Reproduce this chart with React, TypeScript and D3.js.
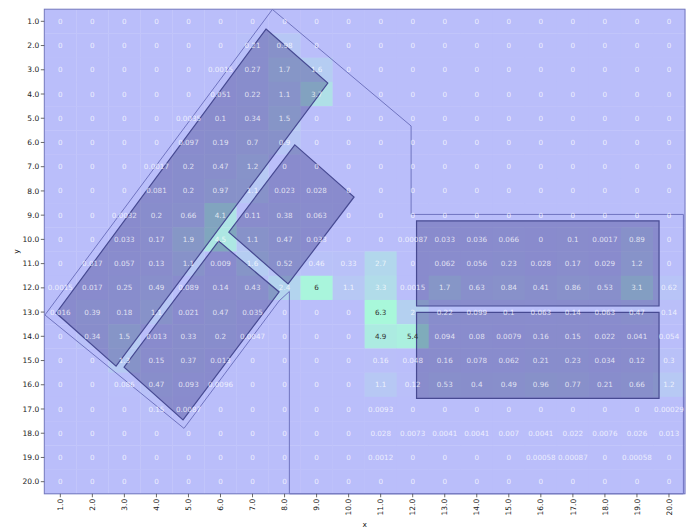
import React from 'react';
import * as d3 from 'd3';

const xLabels = ["1.0","2.0","3.0","4.0","5.0","6.0","7.0","8.0","9.0","10.0","11.0","12.0","13.0","14.0","15.0","16.0","17.0","18.0","19.0","20.0"];
const yLabels = xLabels;

const values: number[][] = [
  [0,0,0,0,0,0,0,0,0,0,0,0,0,0,0,0,0,0,0,0],
  [0,0,0,0,0,0,0.21,0.98,0,0,0,0,0,0,0,0,0,0,0,0],
  [0,0,0,0,0,0.0015,0.27,1.7,1.6,0,0,0,0,0,0,0,0,0,0,0],
  [0,0,0,0,0,0.051,0.22,1.1,3.7,0,0,0,0,0,0,0,0,0,0,0],
  [0,0,0,0,0.0035,0.1,0.34,1.5,0,0,0,0,0,0,0,0,0,0,0,0],
  [0,0,0,0,0.097,0.19,0.7,0.9,0,0,0,0,0,0,0,0,0,0,0,0],
  [0,0,0,0.0017,0.2,0.47,1.2,0,0,0,0,0,0,0,0,0,0,0,0,0],
  [0,0,0,0.081,0.2,0.97,1.1,0.023,0.028,0,0,0,0,0,0,0,0,0,0,0],
  [0,0,0.0032,0.2,0.66,4.1,0.11,0.38,0.063,0,0,0,0,0,0,0,0,0,0,0],
  [0,0,0.033,0.17,1.9,4.5,1.1,0.47,0.033,0,0,0.00087,0.033,0.036,0.066,0,0.1,0.0017,0.89,0],
  [0,0.017,0.057,0.13,1.1,0.009,1.6,0.52,0.46,0.33,2.7,0,0.062,0.056,0.23,0.028,0.17,0.029,1.2,0],
  [0.0015,0.017,0.25,0.49,0.089,0.14,0.43,2.4,6,1.1,3.3,0.0015,1.7,0.63,0.84,0.41,0.86,0.53,3.1,0.62],
  [0.016,0.39,0.18,1.1,0.021,0.47,0.035,0,0,0,6.3,2,0.22,0.099,0.1,0.063,0.14,0.063,0.47,0.14],
  [0,0.34,1.5,0.013,0.33,0.2,0.0047,0,0,0,4.9,5.4,0.094,0.08,0.0079,0.16,0.15,0.022,0.041,0.054],
  [0,0,1.3,0.15,0.37,0.013,0,0,0,0,0.16,0.048,0.16,0.078,0.062,0.21,0.23,0.034,0.12,0.3],
  [0,0,0.086,0.47,0.093,0.0096,0,0,0,0,1.1,0.12,0.53,0.4,0.49,0.96,0.77,0.21,0.66,1.2],
  [0,0,0,0.15,0.0087,0,0,0,0,0,0.0093,0,0,0,0,0,0,0,0,0.00029],
  [0,0,0,0,0,0,0,0,0,0,0.028,0.0073,0.0041,0.0041,0.007,0.0041,0.022,0.0076,0.026,0.013],
  [0,0,0,0,0,0,0,0,0,0,0.0012,0,0,0,0,0.00058,0.00087,0,0.00058,0],
  [0,0,0,0,0,0,0,0,0,0,0,0,0,0,0,0,0,0,0,0],
];

// polygons in data coordinates [x, y]
const outerShape: [number, number][] = [
  [7.62, 0.51], [11.95, 5.32], [11.95, 8.97], [20.45, 8.97], [20.45, 20.5],
  [8.15, 20.5], [8.15, 12.15], [7.83, 12.54], [4.86, 17.8], [0.52, 13.12],
];
const bandUpper: [number, number][] = [[7.42, 1.32], [9.35, 3.55], [2.74, 15.23], [0.87, 13.04]];
const bandMiddle: [number, number][] = [[8.32, 6.1], [10.17, 8.25], [8.11, 11.84], [6.26, 9.7]];
const bandLower: [number, number][] = [[5.94, 10.07], [7.83, 12.17], [4.83, 17.45], [2.99, 15.27]];
const boxUpper: [number, number][] = [[12.12, 9.24], [19.69, 9.24], [19.69, 12.75], [12.12, 12.75]];
const boxLower: [number, number][] = [[12.12, 13.01], [19.69, 13.01], [19.69, 16.56], [12.12, 16.56]];
const darkShapes = [bandUpper, bandMiddle, bandLower, boxUpper, boxLower];

const W = 693, H = 530;
const left = 44.3, right = 685, top = 9.2, bottom = 493.8;

export default function App() {
  const x = d3.scaleLinear().domain([0.5, 20.5]).range([left, right]);
  const y = d3.scaleLinear().domain([0.5, 20.5]).range([top, bottom]);
  const maxV = d3.max(values.flat()) as number;
  const color = d3.scaleLinear<string>().domain([0, maxV]).range(["rgb(186,190,250)", "rgb(168,248,218)"]).interpolate(d3.interpolateRgb);
  const line = d3.line<[number, number]>().x(d => x(d[0])).y(d => y(d[1])).curve(d3.curveLinearClosed);
  const cw = x(2) - x(1), ch = y(2) - y(1);
  const font = "'DejaVu Sans', sans-serif";
  return (
    <div style={{ position: 'absolute', left: 0, top: 0 }}>
      <svg width={W} height={H} style={{ display: 'block', background: '#fff' }}>
        <g>
          {values.map((row, j) => row.map((v, i) => (
            <rect key={`c${i}-${j}`} x={x(i + 1) - cw / 2} y={y(j + 1) - ch / 2} width={cw + 0.3} height={ch + 0.3} fill={color(v)} />
          )))}
        </g>
        {darkShapes.map((p, k) => (
          <path key={`d${k}`} d={line(p) as string} fill="rgba(45,45,120,0.35)" stroke="#474a92" strokeWidth={1.2} />
        ))}
        <path d={line(outerShape) as string} fill="none" stroke="#7074c0" strokeWidth={1} />
        <g fontFamily={font} fontSize={7.2}>
          {values.map((row, j) => row.map((v, i) => (
            <text key={`t${i}-${j}`} x={x(i + 1)} y={y(j + 1)} dy="0.35em" textAnchor="middle"
              fill={v > 0.75 * maxV ? '#333' : 'rgba(255,255,255,0.75)'}>{String(v)}</text>
          )))}
        </g>
        <rect x={left} y={top} width={right - left} height={bottom - top} fill="none" stroke="#7478bd" strokeWidth={1} />
        <g fontFamily={font} fontSize={7.5} fill="#222">
          {yLabels.map((t, j) => (
            <g key={`y${j}`}>
              <line x1={left - 3.5} x2={left} y1={y(j + 1)} y2={y(j + 1)} stroke="#444" strokeWidth={0.8} />
              <text x={left - 5} y={y(j + 1)} dy="0.35em" textAnchor="end">{t}</text>
            </g>
          ))}
          {xLabels.map((t, i) => (
            <g key={`x${i}`}>
              <line x1={x(i + 1)} x2={x(i + 1)} y1={bottom} y2={bottom + 3.5} stroke="#444" strokeWidth={0.8} />
              <text transform={`translate(${x(i + 1)},${bottom + 5}) rotate(-90)`} dy="0.35em" textAnchor="end">{t}</text>
            </g>
          ))}
          <text x={(left + right) / 2} y={527} textAnchor="middle">x</text>
          <text transform={`translate(16,${(top + bottom) / 2}) rotate(-90)`} textAnchor="middle" dy="0.35em">y</text>
        </g>
      </svg>
    </div>
  );
}
